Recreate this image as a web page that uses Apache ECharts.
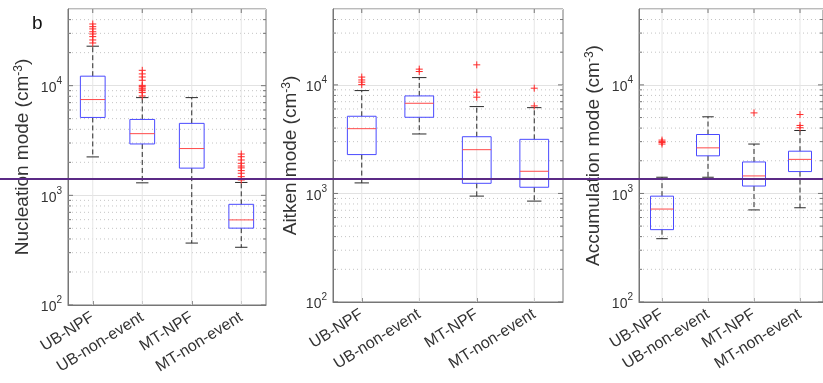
<!DOCTYPE html>
<html>
<head>
<meta charset="utf-8">
<script src="https://cdn.jsdelivr.net/npm/echarts@6/dist/echarts.min.js"></script>
<style>
html,body{margin:0;padding:0;background:#fff;}
#chart{width:823px;height:383px;}
</style>
</head>
<body>
<div id="chart"></div>
<script>
// ---------------- data ----------------
const categories = ['UB-NPF', 'UB-non-event', 'MT-NPF', 'MT-non-event'];
const yMin = 100;
const yMax = 50000;
const majorTickValues = [100, 1000, 10000];
const minorTickValues = [200, 300, 400, 500, 600, 700, 800, 900,
  2000, 3000, 4000, 5000, 6000, 7000, 8000, 9000,
  20000, 30000, 40000];
const panelTitles = ['Nucleation mode', 'Aitken mode', 'Accumulation mode'];
const panelLetter = 'b';
const referenceLineValue = 1410;

// box statistics: [lower whisker, Q1, median, Q3, upper whisker]
const nucleationStats = [
  [2240, 5130, 7470, 12200, 22900],
  [1300, 2940, 3650, 4920, 7780],
  [367, 1770, 2670, 4530, 7780],
  [336, 502, 597, 828, 1310]
];
const nucleationOutliers = [
  [24500, 26100, 28000, 29600, 31000, 32900, 34500, 36500],
  [8050, 8650, 9000, 9300, 9500, 9800, 10060, 11200, 12000, 12800, 13800],
  [],
  [1380, 1480, 1590, 1680, 1780, 1850, 1960, 2100, 2250, 2380]
];
const aitkenStats = [
  [1250, 2280, 3950, 5140, 8860],
  [3530, 5030, 6770, 7910, 11670],
  [945, 1240, 2530, 3330, 6310],
  [850, 1140, 1600, 3150, 6170]
];
const aitkenOutliers = [
  [10060, 10600, 11100, 11800],
  [13270, 13960],
  [7700, 8570, 15300],
  [6400, 9320]
];
const accumulationStats = [
  [383, 464, 718, 944, 1410],
  [1410, 2220, 2630, 3490, 5080],
  [705, 1170, 1450, 1950, 2850],
  [738, 1590, 2060, 2450, 3800]
];
const accumulationOutliers = [
  [2850, 2950, 3000, 3100],
  [],
  [5520],
  [4030, 4230, 5330]
];

// ---------------- style / layout ----------------
const FONT = 'Arial, "Liberation Sans", Helvetica, sans-serif';
const AXIS_COLOR = '#767676';
const TEXT_COLOR = '#333333';
const grids = [
  {left: 68, top: 9, width: 198, height: 296},
  {left: 333, top: 9, width: 230, height: 293},
  {left: 639, top: 9, width: 192, height: 293}
];
const nameGaps = [36, 33, 36];
const allStats = [nucleationStats, aitkenStats, accumulationStats];
const allOutliers = [nucleationOutliers, aitkenOutliers, accumulationOutliers];

function tickLabel(v) {
  const e = Math.log10(v);
  if (Math.abs(e - Math.round(e)) > 1e-6) return '';
  return '{b|10}{s|' + Math.round(e) + '}';
}

function renderBox(params, api) {
  const idx = api.value(0);
  const lo = api.value(1), q1 = api.value(2), med = api.value(3), q3 = api.value(4), hi = api.value(5);
  const band = api.size([1, 0], [idx, 1000])[0];
  const cx = api.coord([idx, med])[0];
  const yLo = api.coord([idx, lo])[1];
  const yQ1 = api.coord([idx, q1])[1];
  const yMed = api.coord([idx, med])[1];
  const yQ3 = api.coord([idx, q3])[1];
  const yHi = api.coord([idx, hi])[1];
  const bw = band * 0.5, cw = band * 0.25;
  const dash = {stroke: '#2a2a2a', lineWidth: 1, lineDash: [5, 3]};
  const solid = {stroke: '#2a2a2a', lineWidth: 1};
  return {
    type: 'group',
    children: [
      {type: 'line', shape: {x1: cx, y1: yQ3, x2: cx, y2: yHi}, style: dash},
      {type: 'line', shape: {x1: cx, y1: yQ1, x2: cx, y2: yLo}, style: dash},
      {type: 'line', shape: {x1: cx - cw / 2, y1: yHi, x2: cx + cw / 2, y2: yHi}, style: solid},
      {type: 'line', shape: {x1: cx - cw / 2, y1: yLo, x2: cx + cw / 2, y2: yLo}, style: solid},
      {type: 'rect', shape: {x: cx - bw / 2, y: yQ3, width: bw, height: yQ1 - yQ3},
        style: {fill: 'none', stroke: '#4a4aff', lineWidth: 1}},
      {type: 'line', shape: {x1: cx - bw / 2, y1: yMed, x2: cx + bw / 2, y2: yMed},
        style: {stroke: '#ff4a4a', lineWidth: 1}}
    ]
  };
}

function renderPlus(params, api) {
  const p = api.coord([api.value(0), api.value(1)]);
  const h = 3.5;
  const st = {stroke: '#ff2a2a', lineWidth: 1};
  return {
    type: 'group',
    children: [
      {type: 'line', shape: {x1: p[0] - h, y1: p[1], x2: p[0] + h, y2: p[1]}, style: st},
      {type: 'line', shape: {x1: p[0], y1: p[1] - h, x2: p[0], y2: p[1] + h}, style: st}
    ]
  };
}

function renderMinor(params, api) {
  const cs = params.coordSys;
  const y = api.coord([0, api.value(1)])[1];
  return {
    type: 'group',
    children: [
      {type: 'line', shape: {x1: cs.x, y1: y, x2: cs.x + cs.width, y2: y},
        style: {stroke: '#c4c4c4', lineWidth: 1, lineDash: [1, 3]}},
      {type: 'line', shape: {x1: cs.x, y1: y, x2: cs.x + 3, y2: y}, style: {stroke: AXIS_COLOR, lineWidth: 1}},
      {type: 'line', shape: {x1: cs.x + cs.width - 3, y1: y, x2: cs.x + cs.width, y2: y}, style: {stroke: AXIS_COLOR, lineWidth: 1}}
    ]
  };
}

function renderMajorTick(params, api) {
  const cs = params.coordSys;
  const y = api.coord([0, api.value(1)])[1];
  return {
    type: 'group',
    children: [
      {type: 'line', shape: {x1: cs.x, y1: y, x2: cs.x + 5, y2: y}, style: {stroke: AXIS_COLOR, lineWidth: 1}},
      {type: 'line', shape: {x1: cs.x + cs.width - 5, y1: y, x2: cs.x + cs.width, y2: y}, style: {stroke: AXIS_COLOR, lineWidth: 1}}
    ]
  };
}

function renderCatGrid(params, api) {
  const cs = params.coordSys;
  const x = api.coord([api.value(0), 1000])[0];
  return {
    type: 'group',
    children: [
      {type: 'line', shape: {x1: x, y1: cs.y, x2: x, y2: cs.y + cs.height}, style: {stroke: '#e6e6e6', lineWidth: 1}},
      {type: 'line', shape: {x1: x, y1: cs.y, x2: x, y2: cs.y + 4}, style: {stroke: AXIS_COLOR, lineWidth: 1}}
    ]
  };
}

const xAxes = [], yAxes = [], series = [];
grids.forEach((g, i) => {
  xAxes.push({
    gridIndex: i, type: 'category', data: categories, boundaryGap: true,
    axisLine: {lineStyle: {color: AXIS_COLOR, width: 1}},
    axisTick: {show: true, inside: true, alignWithLabel: true, length: 4, lineStyle: {color: AXIS_COLOR}},
    axisLabel: {rotate: 32, interval: 0, fontSize: 16, color: TEXT_COLOR, fontFamily: FONT, margin: 11},
    splitLine: {show: false}
  });
  yAxes.push({
    gridIndex: i, type: 'log', logBase: 10, min: yMin, max: yMax,
    name: panelTitles[i] + ' (cm{sup|-3})',
    nameLocation: 'middle', nameRotate: 90, nameGap: nameGaps[i],
    nameTextStyle: {fontSize: 19, color: TEXT_COLOR, fontFamily: FONT,
      rich: {sup: {fontSize: 12, verticalAlign: 'top', color: TEXT_COLOR, fontFamily: FONT}}},
    axisLine: {show: true, lineStyle: {color: AXIS_COLOR, width: 1}},
    axisTick: {show: false},
    axisLabel: {formatter: tickLabel, margin: 6, color: TEXT_COLOR, fontFamily: FONT,
      rich: {
        b: {fontSize: 14, color: TEXT_COLOR, fontFamily: FONT, padding: [5, 0, 0, 0]},
        s: {fontSize: 10, color: TEXT_COLOR, fontFamily: FONT, verticalAlign: 'top'}
      }},
    splitLine: {show: true, lineStyle: {color: '#e2e2e2', width: 1}}
  });
  series.push({
    type: 'custom', xAxisIndex: i, yAxisIndex: i, z: 1, silent: true,
    renderItem: renderMinor,
    data: minorTickValues.map(v => [0, v])
  });
  series.push({
    type: 'custom', xAxisIndex: i, yAxisIndex: i, z: 1, silent: true,
    renderItem: renderMajorTick,
    data: majorTickValues.map(v => [0, v])
  });
  series.push({
    type: 'custom', xAxisIndex: i, yAxisIndex: i, z: 1, silent: true,
    renderItem: renderCatGrid,
    data: categories.map((c, k) => [k])
  });
  series.push({
    type: 'custom', xAxisIndex: i, yAxisIndex: i, z: 3,
    renderItem: renderBox,
    encode: {x: 0, y: [1, 2, 3, 4, 5]},
    data: allStats[i].map((s, k) => [k].concat(s))
  });
  const outl = [];
  allOutliers[i].forEach((arr, k) => arr.forEach(v => outl.push([k, v])));
  series.push({
    type: 'custom', xAxisIndex: i, yAxisIndex: i, z: 4,
    renderItem: renderPlus,
    encode: {x: 0, y: 1},
    data: outl
  });
});

const chart = echarts.init(document.getElementById('chart'), null, {renderer: 'canvas'});
chart.setOption({
  animation: false,
  backgroundColor: '#ffffff',
  textStyle: {fontFamily: FONT},
  title: {text: panelLetter, left: 27, top: 9,
    textStyle: {fontSize: 19, fontWeight: 'normal', color: '#111', fontFamily: FONT}},
  grid: grids.map(g => Object.assign({show: true, borderColor: AXIS_COLOR, borderWidth: 1, backgroundColor: 'transparent'}, g)),
  xAxis: xAxes,
  yAxis: yAxes,
  series: series
});

const yRef = chart.convertToPixel({yAxisIndex: 0}, referenceLineValue);
chart.setOption({
  graphic: [{
    type: 'line', z: 100,
    shape: {x1: 0, y1: yRef, x2: chart.getWidth(), y2: yRef},
    style: {stroke: '#5b2a86', lineWidth: 2}
  }]
});
</script>
</body>
</html>
